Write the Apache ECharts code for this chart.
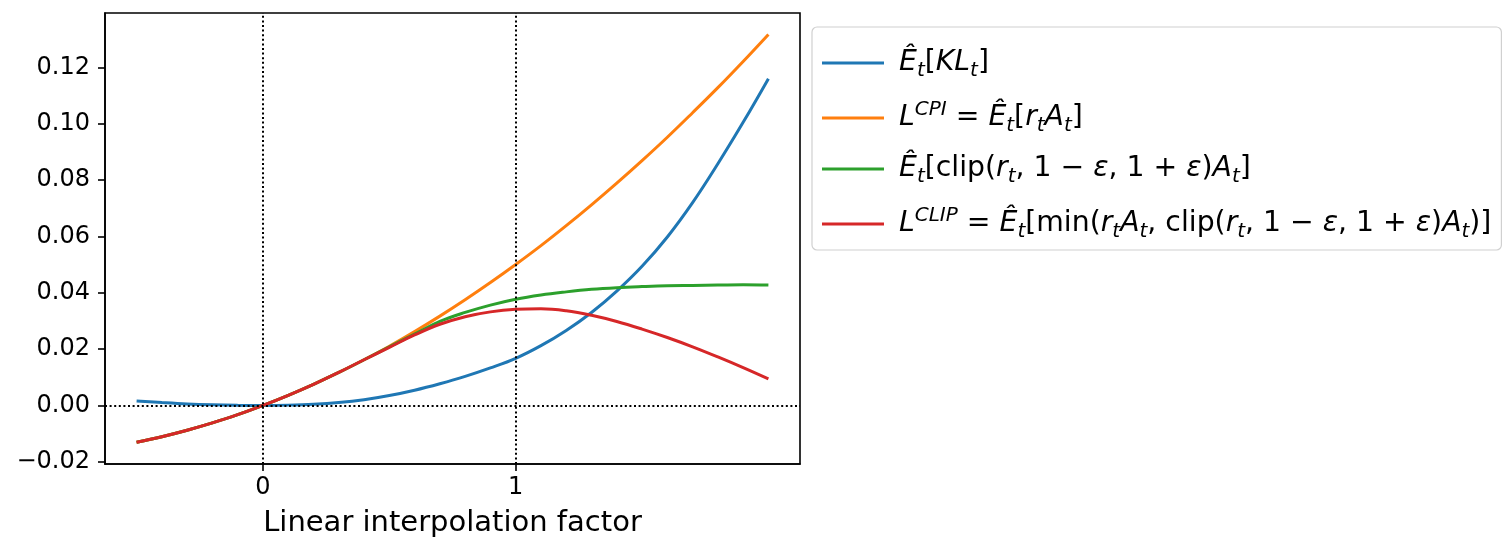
<!DOCTYPE html>
<html>
<head>
<meta charset="utf-8">
<script src="https://cdn.jsdelivr.net/npm/echarts@6/dist/echarts.min.js"></script>
<style>
  html, body { margin: 0; padding: 0; background: #fff; }
  #chart { width: 1507px; height: 548px; }
</style>
</head>
<body>
<div id="chart"></div>
<script>
// interpolation factor (x)
const factors = [-0.5, -0.4, -0.3, -0.2, -0.1, 0.0, 0.1, 0.2, 0.3, 0.4, 0.5, 0.6, 0.7,
                 0.8, 0.9, 1.0, 1.1, 1.2, 1.3, 1.4, 1.5, 1.6, 1.7, 1.8, 1.9, 2.0];

// values
const klValues   = [0.0016, 0.0010, 0.0005, 0.0002, 0.00005, 0.0, 0.0001, 0.0004, 0.0010, 0.0020, 0.0035, 0.0054, 0.0077,
                    0.0103, 0.0133, 0.0167, 0.0212, 0.0266, 0.0330, 0.0406, 0.0494, 0.0598, 0.0720, 0.0858, 0.1005, 0.1160];
const cpiValues  = [-0.0131, -0.0111, -0.0088, -0.0062, -0.0033, 0.0, 0.0036, 0.0075, 0.0117, 0.0162, 0.0210, 0.0262, 0.0317,
                    0.0375, 0.0436, 0.0500, 0.0567, 0.0638, 0.0712, 0.0789, 0.0869, 0.0952, 0.1039, 0.1128, 0.1221, 0.1317];
const clipValues = [-0.0131, -0.0111, -0.0088, -0.0062, -0.0033, 0.0, 0.0036, 0.0075, 0.0117, 0.0162, 0.0208, 0.0253, 0.0298,
                    0.0330, 0.0356, 0.0377, 0.0392, 0.0403, 0.0412, 0.0418, 0.0422, 0.0425, 0.0426, 0.0427, 0.0428, 0.0427];
const lclipValues = [-0.0131, -0.0111, -0.0088, -0.0062, -0.0033, 0.0, 0.0036, 0.0075, 0.0117, 0.0162, 0.0206, 0.0250, 0.0288,
                     0.0315, 0.0332, 0.0341, 0.0343, 0.0336, 0.0320, 0.0298, 0.0271, 0.0241, 0.0208, 0.0172, 0.0134, 0.0094];

const xTicks = [0, 1];
const yTicks = [-0.02, 0.0, 0.02, 0.04, 0.06, 0.08, 0.10, 0.12];

const FONT = 'DejaVu Sans';

// legend labels as rich text (i = italic, s = subscript, p = superscript, n = normal)
const legendLabels = {
  kl: '{g| }{i|Ê}{s|t}{n|[}{i|KL}{s|t}{n|]}',
  cpi: '{g| }{i|L}{p|CPI}{n| = }{i|Ê}{s|t}{n|[}{i|r}{s|t}{i|A}{s|t}{n|]}',
  clip: '{g| }{i|Ê}{s|t}{n|[clip(}{i|r}{s|t}{n|, 1 − }{i|ε}{n|, 1 + }{i|ε}{n|)}{i|A}{s|t}{n|]}',
  lclip: '{g| }{i|L}{p|CLIP}{n| = }{i|Ê}{s|t}{n|[min(}{i|r}{s|t}{i|A}{s|t}{n|, clip(}{i|r}{s|t}{n|, 1 − }{i|ε}{n|, 1 + }{i|ε}{n|)}{i|A}{s|t}{n|)]}'
};

function pairs(ys) {
  return factors.map((x, i) => [x, ys[i]]);
}

function lineSeries(name, ys, color) {
  return {
    name: name,
    type: 'line',
    data: pairs(ys),
    showSymbol: false,
    smooth: 0.4,
    color: color,
    lineStyle: { width: 3, color: color }
  };
}

const chart = echarts.init(document.getElementById('chart'));

const series = [
  lineSeries('kl', klValues, '#1f77b4'),
  lineSeries('cpi', cpiValues, '#ff7f0e'),
  lineSeries('clip', clipValues, '#2ca02c'),
  lineSeries('lclip', lclipValues, '#d62728')
];

// dotted reference lines at x = 0, x = 1, y = 0
series[0].markLine = {
  silent: true,
  symbol: 'none',
  label: { show: false },
  lineStyle: { color: '#000', width: 2, type: [2, 2.6] },
  data: [{ xAxis: 0 }, { xAxis: 1 }, { yAxis: 0 }]
};

const axisLine = { show: true, onZero: false, lineStyle: { color: '#000', width: 1.6 } };
const axisTick = ticks => ({ show: true, inside: false, customValues: ticks, length: 7, lineStyle: { color: '#000', width: 1.6 } });

const option = {
  animation: false,
  backgroundColor: '#fff',
  textStyle: { fontFamily: FONT },
  grid: {
    left: 105,
    right: 707,
    top: 13,
    bottom: 84,
    show: true,
    borderColor: '#000',
    borderWidth: 1.6
  },
  xAxis: {
    type: 'value',
    min: -0.625,
    max: 2.125,
    name: 'Linear interpolation factor',
    nameLocation: 'middle',
    nameGap: 45,
    nameTextStyle: { fontSize: 29, color: '#000', fontFamily: FONT },
    axisLine: axisLine,
    axisTick: axisTick(xTicks),
    axisLabel: { customValues: xTicks, fontSize: 24, color: '#000', margin: 12, fontFamily: FONT },
    splitLine: { show: false }
  },
  yAxis: {
    type: 'value',
    min: -0.0208,
    max: 0.1393,
    axisLine: axisLine,
    axisTick: axisTick(yTicks),
    axisLabel: {
      customValues: yTicks,
      fontSize: 24,
      color: '#000',
      margin: 15,
      fontFamily: FONT,
      formatter: v => (v < -1e-9 ? '\u2212' : '') + Math.abs(v).toFixed(2)
    },
    splitLine: { show: false }
  },
  legend: {
    orient: 'vertical',
    left: 812,
    top: 27,
    icon: 'rect',
    itemWidth: 62,
    itemHeight: 3,
    itemGap: 19,
    padding: [22, 10, 8, 10],
    backgroundColor: '#fff',
    borderColor: '#d0d0d0',
    borderWidth: 1.2,
    borderRadius: 5,
    formatter: name => legendLabels[name],
    textStyle: {
      color: '#000',
      fontFamily: FONT,
      fontSize: 28.3,
      rich: {
        g: { width: 10, fontSize: 28.3, lineHeight: 36 },
        n: { fontSize: 28.3, lineHeight: 36, fontFamily: FONT },
        i: { fontSize: 28.3, lineHeight: 36, fontStyle: 'italic', fontFamily: FONT },
        s: { fontSize: 20, lineHeight: 20, fontStyle: 'italic', verticalAlign: 'bottom', fontFamily: FONT },
        p: { fontSize: 20, lineHeight: 20, fontStyle: 'italic', verticalAlign: 'top', fontFamily: FONT }
      }
    },
    data: ['kl', 'cpi', 'clip', 'lclip']
  },
  series: series
};

chart.setOption(option);
</script>
</body>
</html>
